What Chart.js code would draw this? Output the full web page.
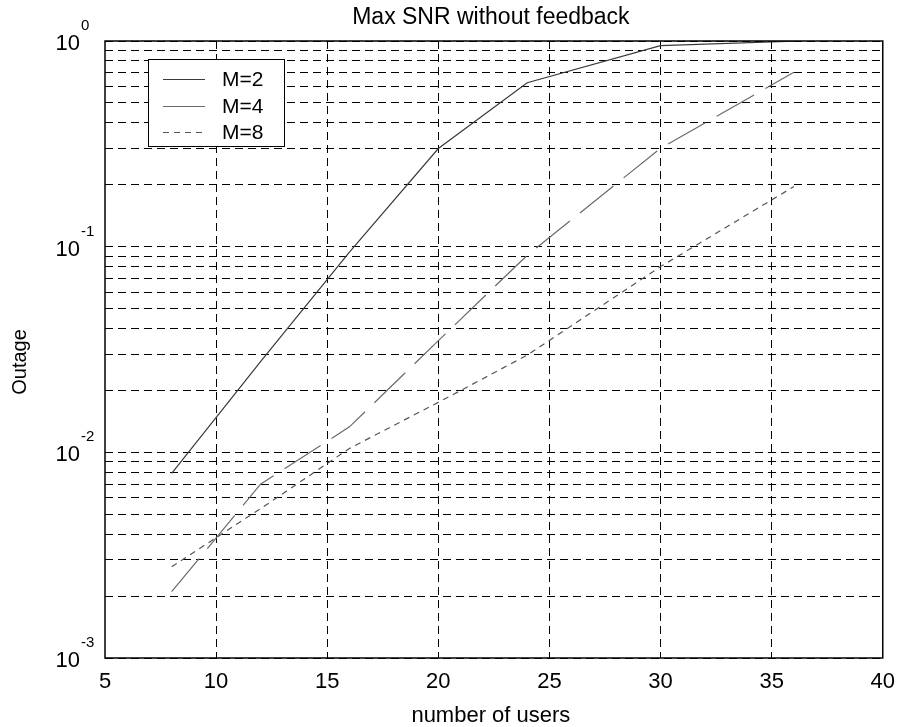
<!DOCTYPE html>
<html>
<head>
<meta charset="utf-8">
<title>Max SNR without feedback</title>
<script src="https://cdn.jsdelivr.net/npm/chart.js@4.4.0/dist/chart.umd.min.js"></script>
<style>
  html, body { margin: 0; padding: 0; background: #fff; }
  canvas { display: block; }
</style>
</head>
<body>
<canvas id="snr-chart" width="906" height="727"></canvas>
<script>
// data
const users = [8, 12, 16, 20, 24, 30, 36];
const outageM2 = [0.0079, 0.0276, 0.094, 0.30, 0.627, 0.949, 0.998];
const outageM4 = [0.0021, 0.0070, 0.0133, 0.0349, 0.0908, 0.301, 0.704];
const outageM8 = [0.00278, 0.00532, 0.01045, 0.0175, 0.0297, 0.080, 0.196];
const seriesLabels = ['M=2', 'M=4', 'M=8'];

// axes
const xTicks = [5, 10, 15, 20, 25, 30, 35, 40];
const yGrid = [
    0.001, 0.002, 0.003, 0.004, 0.005, 0.006, 0.007, 0.008, 0.009,
    0.01, 0.02, 0.03, 0.04, 0.05, 0.06, 0.07, 0.08, 0.09,
    0.1, 0.2, 0.3, 0.4, 0.5, 0.6, 0.7, 0.8, 0.9, 1
];
const yLabelValues = [0.001, 0.01, 0.1, 1];
const yLabelExps = ['-3', '-2', '-1', '0'];

const FONT = '"Liberation Sans", Arial, Helvetica, sans-serif';

function points(ys) {
    return users.map((u, i) => ({ x: u, y: ys[i] }));
}

// Draws the title, axis titles, y tick labels with exponents, the box and the legend
const matlabLook = {
    id: 'matlabLook',
    afterDraw(chart) {
        const ctx = chart.ctx;
        const area = chart.chartArea;
        const yScale = chart.scales.y;
        const midX = (area.left + area.right) / 2;

        ctx.save();
        ctx.fillStyle = '#000';

        // title
        ctx.font = '23px ' + FONT;
        ctx.textAlign = 'center';
        ctx.textBaseline = 'middle';
        ctx.fillText('Max SNR without feedback', midX - 3, 18);

        // x axis title
        ctx.font = '22px ' + FONT;
        ctx.textBaseline = 'alphabetic';
        ctx.fillText('number of users', midX - 3, 722);

        // y axis title
        ctx.save();
        ctx.translate(26, 362);
        ctx.rotate(-Math.PI / 2);
        ctx.font = '20px ' + FONT;
        ctx.textBaseline = 'alphabetic';
        ctx.fillText('Outage', 0, 0);
        ctx.restore();

        // y tick labels: 10 with a raised exponent
        yLabelValues.forEach((v, i) => {
            const py = yScale.getPixelForValue(v);
            ctx.font = '22px ' + FONT;
            ctx.textAlign = 'right';
            ctx.textBaseline = 'middle';
            ctx.fillText('10', 80, py + 3);
            ctx.font = '15px ' + FONT;
            ctx.textAlign = 'left';
            ctx.fillText(yLabelExps[i], 81, py - 15);
        });

        // axes box
        ctx.strokeStyle = '#000';
        ctx.lineWidth = 1.5;
        ctx.strokeRect(area.left, area.top, area.right - area.left, area.bottom - area.top);

        // legend
        const lx = 148, ly = 59, lw = 136, lh = 87;
        ctx.fillStyle = '#fff';
        ctx.fillRect(lx, ly, lw, lh);
        ctx.strokeStyle = '#000';
        ctx.lineWidth = 1;
        ctx.strokeRect(lx + 0.5, ly + 0.5, lw, lh);
        const rows = [79, 106, 132];
        chart.data.datasets.forEach((ds, i) => {
            ctx.save();
            ctx.strokeStyle = ds.borderColor;
            ctx.lineWidth = 1;
            ctx.setLineDash(i === 2 ? ds.borderDash : []);
            ctx.beginPath();
            ctx.moveTo(163, rows[i] + 0.5);
            ctx.lineTo(205, rows[i] + 0.5);
            ctx.stroke();
            ctx.restore();
            ctx.fillStyle = '#000';
            ctx.font = '21px ' + FONT;
            ctx.textAlign = 'left';
            ctx.textBaseline = 'middle';
            ctx.fillText(ds.label, 222, rows[i] + 1);
        });

        ctx.restore();
    }
};

const ctx = document.getElementById('snr-chart').getContext('2d');

const chart = new Chart(ctx, {
    type: 'line',
    data: {
        datasets: [
            {
                label: seriesLabels[0],
                data: points(outageM2),
                borderColor: '#3a3a3a',
                borderWidth: 1.2,
                pointRadius: 0,
                fill: false
            },
            {
                label: seriesLabels[1],
                data: points(outageM4),
                borderColor: '#6a6a6a',
                borderWidth: 1.2,
                borderDash: [43, 13],
                pointRadius: 0,
                fill: false
            },
            {
                label: seriesLabels[2],
                data: points(outageM8),
                borderColor: '#555555',
                borderWidth: 1.2,
                borderDash: [6, 5],
                pointRadius: 0,
                fill: false
            }
        ]
    },
    options: {
        responsive: false,
        animation: false,
        devicePixelRatio: 1,
        layout: {
            padding: { top: 41, right: 17, left: 0, bottom: 0 }
        },
        plugins: {
            legend: { display: false },
            title: { display: false },
            tooltip: { enabled: false }
        },
        scales: {
            x: {
                type: 'linear',
                min: 5,
                max: 40,
                afterBuildTicks: (scale) => {
                    scale.ticks = xTicks.map(v => ({ value: v }));
                },
                afterFit: (scale) => { scale.height = 69; },
                ticks: {
                    autoSkip: false,
                    maxRotation: 0,
                    padding: 11,
                    color: '#000',
                    font: { family: FONT, size: 22 }
                },
                grid: {
                    drawTicks: false,
                    color: (c) => (c.tick && (c.tick.value === 5 || c.tick.value === 40)) ? 'rgba(0,0,0,0)' : '#000',
                    lineWidth: 1
                },
                border: { display: false, dash: [8, 5] }
            },
            y: {
                type: 'logarithmic',
                min: 0.001,
                max: 1,
                afterBuildTicks: (scale) => {
                    scale.ticks = yGrid.map(v => ({ value: v }));
                },
                afterFit: (scale) => { scale.width = 105; },
                ticks: { display: false },
                grid: {
                    drawTicks: false,
                    color: '#000',
                    lineWidth: 1
                },
                border: { display: false, dash: [8, 5] }
            }
        }
    },
    plugins: [matlabLook]
});
</script>
</body>
</html>
